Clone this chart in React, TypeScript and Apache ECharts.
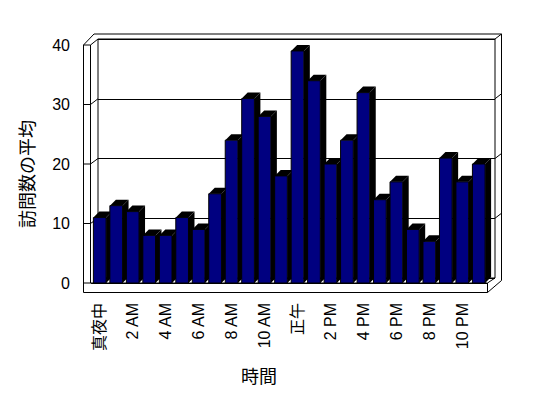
import React, { useEffect, useRef } from "react";
import * as echarts from "echarts";

const hours = [
  "真夜中", "1 AM", "2 AM", "3 AM", "4 AM", "5 AM", "6 AM", "7 AM", "8 AM", "9 AM", "10 AM", "11 AM",
  "正午", "1 PM", "2 PM", "3 PM", "4 PM", "5 PM", "6 PM", "7 PM", "8 PM", "9 PM", "10 PM", "11 PM",
];
const visits = [11, 13, 12, 8, 8, 11, 9, 15, 24, 31, 28, 18, 39, 34, 20, 24, 32, 14, 17, 9, 7, 21, 17, 20];
const yTicks = [0, 10, 20, 30, 40];
const yTitle = "訪問数の平均";
const xTitle = "時間";

const FONT = "'Liberation Sans', 'Noto Sans CJK JP', sans-serif";

export default function App() {
  const ref = useRef<HTMLDivElement>(null);
  useEffect(() => {
    if (!ref.current) return;
    const chart = echarts.init(ref.current, null, { renderer: "svg" });
    const D = 6;
    chart.setOption({
      animation: false,
      backgroundColor: "#fff",
      grid: [
        { left: 91.5, width: 395.5, top: 45, height: 238 },
        { left: 98, width: 397, top: 39, height: 239, show: true, borderColor: "#000", borderWidth: 1, backgroundColor: "transparent" },
      ],
      xAxis: [
        {
          type: "category", gridIndex: 0, data: hours,
          axisLine: { lineStyle: { color: "#000", width: 1 } },
          axisTick: { interval: 0, length: 9, lineStyle: { color: "#000" } },
          axisLabel: { interval: 1, rotate: 90, margin: 20, fontSize: 16, color: "#000", fontFamily: FONT },
          splitLine: { show: false },
        },
        { type: "category", gridIndex: 1, data: hours, show: false },
      ],
      yAxis: [
        {
          type: "value", gridIndex: 0, min: 0, max: 40, interval: 10,
          axisLine: { show: false }, axisTick: { show: false }, splitLine: { show: false },
          axisLabel: { margin: 21.5, fontSize: 16, color: "#000", fontFamily: FONT },
        },
        {
          type: "value", gridIndex: 1, min: 0, max: 40, interval: 10,
          axisLine: { show: false }, axisTick: { show: false }, axisLabel: { show: false },
          splitLine: { show: true, lineStyle: { color: "#000", width: 1 } },
        },
      ],
      series: [
        {
          type: "custom", xAxisIndex: 0, yAxisIndex: 0,
          data: visits.map((v, i) => [i, v]),
          encode: { x: 0, y: 1 },
          renderItem: (params: any, api: any) => {
            const i = api.value(0);
            const v = api.value(1);
            const top = api.coord([i, v]);
            const base = api.coord([i, 0]);
            const bw = api.size([1, 0])[0] * 0.77;
            const x0 = top[0] - bw / 2;
            const x1 = top[0] + bw / 2;
            const yt = top[1];
            const yb = base[1];
            return {
              type: "group",
              children: [
                { type: "polygon", shape: { points: [[x1, yt], [x1 + D, yt - D], [x1 + D, yb - D], [x1, yb]] }, style: { fill: "#000" } },
                { type: "polygon", shape: { points: [[x0, yt], [x0 + D, yt - D], [x1 + D, yt - D], [x1, yt]] }, style: { fill: "#000" } },
                { type: "rect", shape: { x: x0, y: yt, width: bw, height: yb - yt }, style: { fill: "#000080", stroke: "#000", lineWidth: 1 } },
              ],
            };
          },
        },
      ],
    });

    const fy = (v: number) => chart.convertToPixel({ yAxisIndex: 0 }, v) as number;
    const by = (v: number) => chart.convertToPixel({ yAxisIndex: 1 }, v) as number;
    const L0 = 83.5, L1 = 90.5, BL = 98, BR = 495, OR = 501.5, FR = 487.5, FB = 292.5;
    const ln = (x1: number, y1: number, x2: number, y2: number) => ({
      type: "line", z: 0, shape: { x1, y1, x2, y2 }, style: { stroke: "#000", lineWidth: 1 },
    });
    const f40 = fy(40), f0 = fy(0), b40 = by(40), b0 = by(0);
    const g: any[] = [
      ln(L0, f40, L0, FB),
      ln(L1, f40, L1, f0),
      ln(L0, f40, L1, f40),
      ln(L1, f40, BL, b40),
      { type: "polyline", z: 0, shape: { points: [[L0, f40], [94, b40 - 5], [OR, b40 - 5], [OR, b0 + 2.5]] }, style: { stroke: "#000", fill: null, lineWidth: 1 } },
      ln(BR, b40, OR, b40 - 5),
      ln(L0, FB, FR, FB),
      ln(L0, f0, FR, f0),
      ln(FR, f0, FR, FB),
      ln(FR, FB, OR, b0 + 2.5),
      ln(FR, f0, BR, b0),
    ];
    yTicks.filter((v) => v > 0 && v < 40).forEach((v) => {
      g.push(ln(L0, fy(v), L1, fy(v)));
      g.push(ln(L1, fy(v), BL, by(v)));
      g.push(ln(BR, by(v), OR, by(v) - 5));
    });
    g.push({
      type: "text", x: 28, y: 174, rotation: Math.PI / 2, z: 5,
      style: { text: yTitle, fontSize: 18, fill: "#000", align: "center", verticalAlign: "middle", fontFamily: FONT },
    });
    g.push({
      type: "text", x: 259, y: 377, z: 5,
      style: { text: xTitle, fontSize: 18, fill: "#000", align: "center", verticalAlign: "middle", fontFamily: FONT },
    });
    chart.setOption({ graphic: g });
    return () => chart.dispose();
  }, []);
  return (
    <div
      ref={ref}
      style={{ position: "fixed", left: 0, top: 0, width: 548, height: 398, background: "#fff" }}
    />
  );
}
